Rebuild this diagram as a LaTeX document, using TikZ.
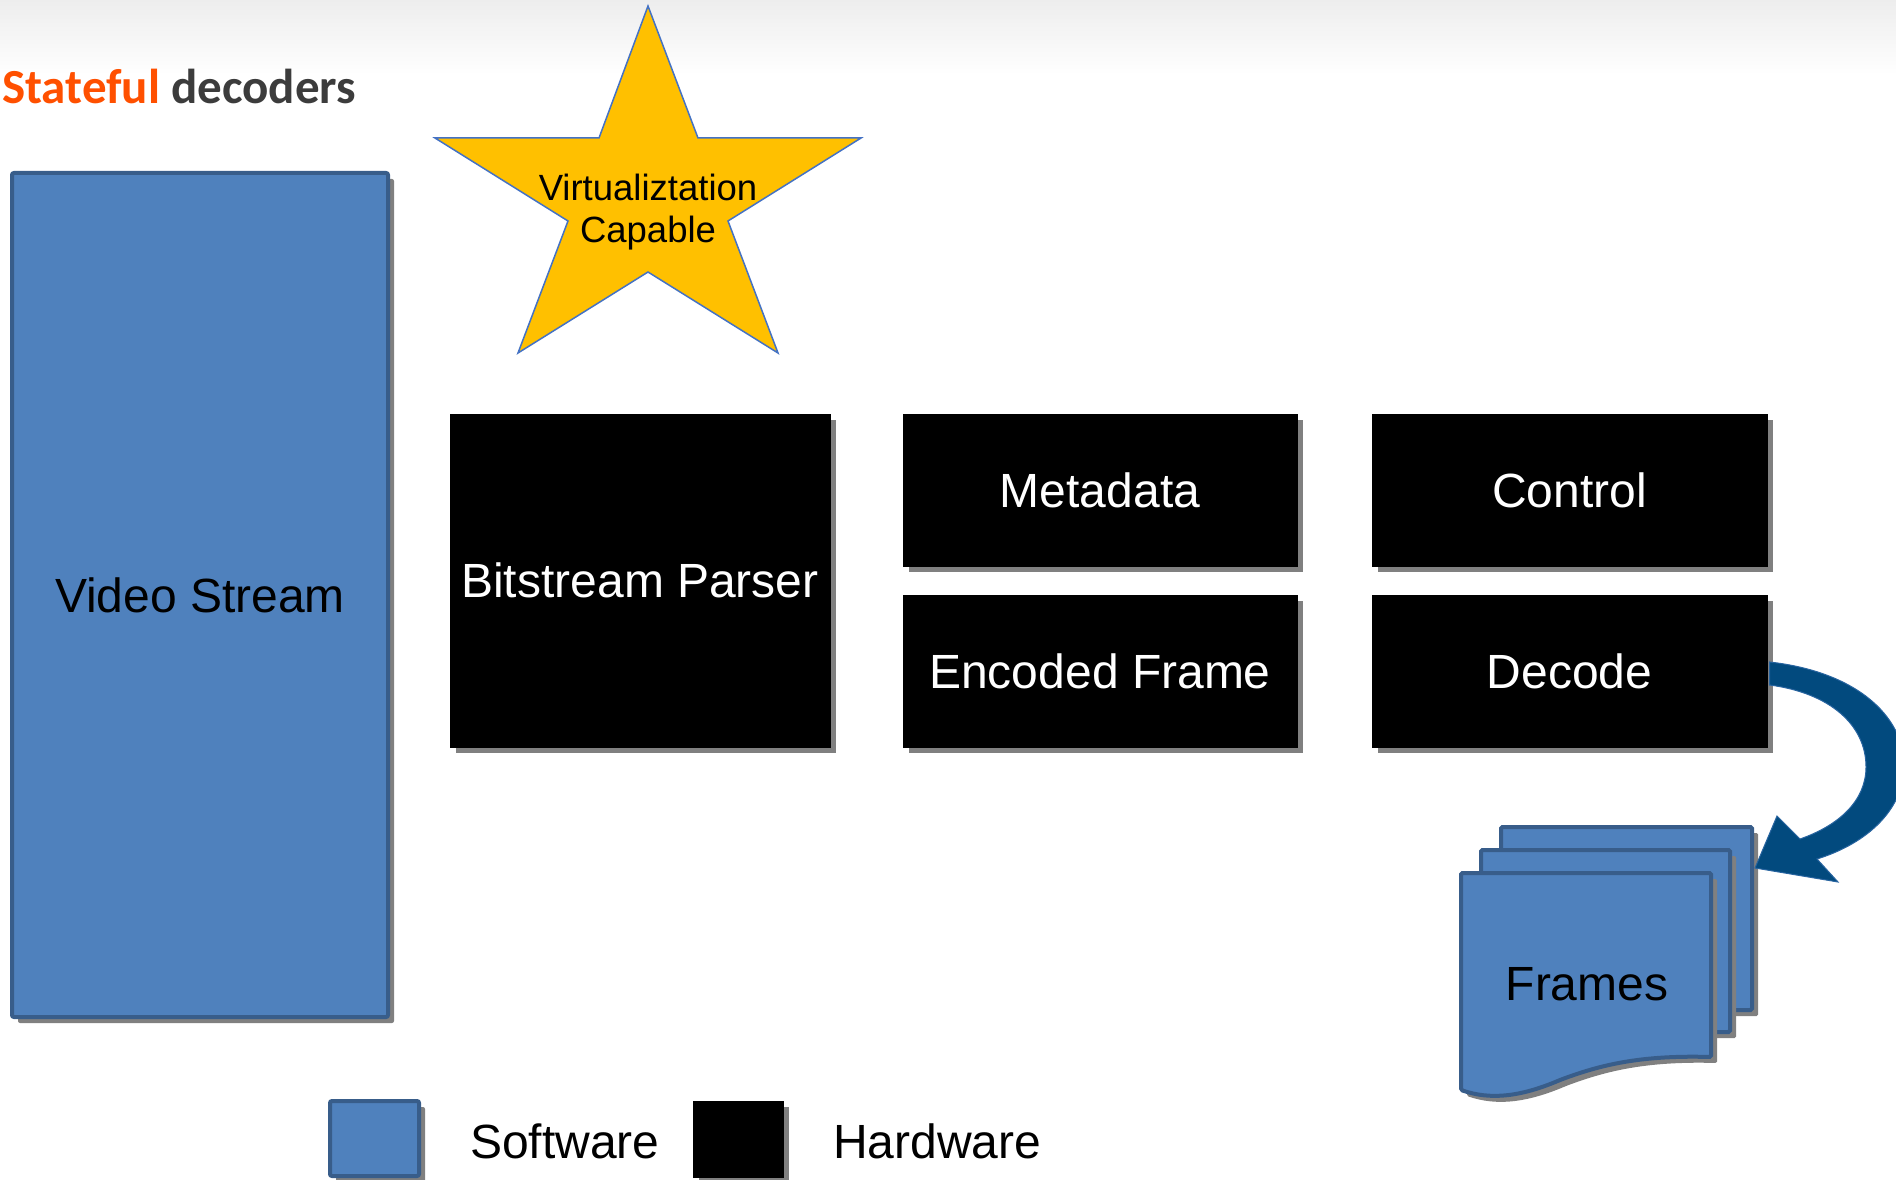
\documentclass[tikz,border=0pt]{standalone}
\usepackage{fontspec}
\setmainfont{Liberation Sans}
\newfontfamily\titlefont{Carlito}
\usetikzlibrary{shadows,calc}
\definecolor{swfill}{RGB}{79,129,189}
\definecolor{swline}{RGB}{56,93,138}
\definecolor{shadowgray}{RGB}{128,128,128}
\definecolor{arrowblue}{RGB}{2,74,126}
\definecolor{arrowline}{RGB}{40,100,160}
\definecolor{starfill}{RGB}{255,192,0}
\definecolor{starline}{RGB}{68,114,196}
\definecolor{titleorange}{RGB}{255,80,0}
\definecolor{titledark}{RGB}{60,60,60}
\begin{document}
\begin{tikzpicture}[x=1pt,y=-1pt,
  shadowed/.style={drop shadow={shadow xshift=6pt,shadow yshift=-6pt,fill=shadowgray,opacity=1}},
  swbox/.style={shadowed, fill=swfill, draw=swline, line width=4pt, rounded corners=2pt, inner sep=0pt},
  hwbox/.style={shadowed, fill=black, draw=black, line width=1pt, inner sep=0pt, text=white},
  sheet/.style={shadowed, fill=swfill, draw=swline, line width=4pt, rounded corners=1.5pt},
  big/.style={font=\fontsize{48}{56}\selectfont},
  label/.style={big, anchor=base west, inner sep=0pt},
]
\useasboundingbox (0,0) rectangle (1896,1180);
\fill[white] (0,0) rectangle (1896,1180);
\fill[top color=black!7, bottom color=white] (0,0) rectangle (1896,75);

% title
\node[anchor=base west, inner sep=0pt, font=\titlefont\bfseries\fontsize{49}{56}\selectfont] (title) at (2,104)
  {\textcolor{titleorange}{Stateful} \textcolor{titledark}{decoders}};

% software block
\node[swbox, big, minimum width=376pt, minimum height=844pt] (video) at (200,595) {Video Stream};

% star
\draw[fill=starfill, draw=starline, line width=1.5pt, line join=miter]
  (648,6) -- (698,138) -- (861,138) -- (728,221) -- (778,353) -- (648,272)
  -- (518,353) -- (568,221) -- (435,138) -- (599,138) -- cycle;
\node[align=center, font=\fontsize{36.5}{42}\selectfont, inner sep=0pt] (virt) at (648,212) {Virtualiztation\\Capable};

% hardware blocks
\node[hwbox, big, minimum width=380pt, minimum height=333pt] (parser) at (640,580.5) {Bitstream Parser};
\node[hwbox, big, minimum width=394pt, minimum height=152pt] (meta) at (1100,490) {Metadata};
\node[hwbox, big, minimum width=394pt, minimum height=152pt] (enc) at (1100,671) {Encoded Frame};
\node[hwbox, big, minimum width=395pt, minimum height=152pt] (ctrl) at (1569.5,490) {Control};
\node[hwbox, big, minimum width=395pt, minimum height=152pt] (decode) at (1569.5,671) {Decode};

% frames stack
\draw[sheet] (1501,827) rectangle (1752,1010);
\draw[sheet] (1481,850) rectangle (1730,1032);
\draw[sheet] (1461,873) -- (1711,873) -- (1711,1057)
  .. controls (1640,1055) and (1600,1065) .. (1560,1080)
  .. controls (1520,1097) and (1490,1100) .. (1461,1090) -- cycle;
\node[big, inner sep=0pt] (frames) at (1587,984) {Frames};
\coordinate (arrtip) at (1755,868);

% curved arrow from Decode to Frames
\filldraw[fill=arrowblue, draw=arrowline, line width=1pt, line join=miter]
  ($(decode.east)+(2,-9)$)
  .. controls (1860,672) and (1908,720) .. (1904,772)
  .. controls (1900,815) and (1862,845) .. (1817,859)
  -- (1838,882) -- (arrtip) -- (1777,816) -- (1800,839)
  .. controls (1840,825) and (1866,800) .. (1866,767)
  .. controls (1866,725) and (1830,693) .. ($(decode.east)+(2,14)$) -- cycle;

% legend
\node[swbox, minimum width=89pt, minimum height=75pt] (swkey) at (374.5,1138.5) {};
\node[label] (swlabel) at (470,1158) {Software};
\node[hwbox, minimum width=90pt, minimum height=76pt] (hwkey) at (738,1139) {};
\node[label] (hwlabel) at (833,1158) {Hardware};
\end{tikzpicture}
\end{document}
